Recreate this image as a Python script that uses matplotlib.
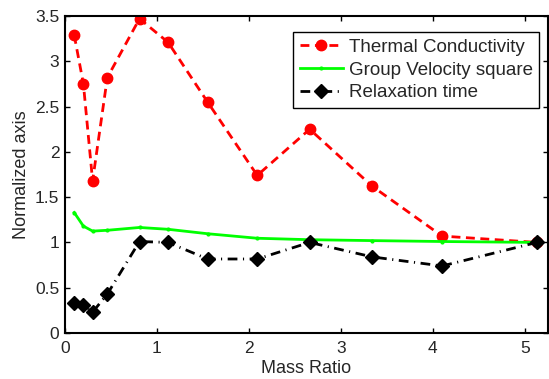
import numpy as np
from matplotlib import pyplot as plt

plt.rcParams['font.family'] = ['Liberation Sans', 'DejaVu Sans']

# Dati
mass_ratio = [0.1, 0.2, 0.3, 0.46, 0.81, 1.12, 1.55, 2.09, 2.66, 3.34, 4.1, 5.13]
thermal_cond = [3.29, 2.75, 1.68, 2.82, 3.47, 3.21, 2.55, 1.74, 2.25, 1.62, 1.07, 1.0]
group_vel_sq = [1.33, 1.18, 1.125, 1.134, 1.165, 1.145, 1.096, 1.046, 1.03, 1.02, 1.01, 1.0]
relax_time = [0.335, 0.305, 0.23, 0.43, 1.01, 1.0, 0.817, 0.817, 1.0, 0.84, 0.74, 1.0]

x_ticks = [0, 1, 2, 3, 4, 5]
y_ticks = [0, 0.5, 1, 1.5, 2, 2.5, 3, 3.5]
y_tick_labels = ["0", "0.5", "1", "1.5", "2", "2.5", "3", "3.5"]


def main() -> None:
    fig = plt.figure(figsize=(5.49, 3.79), dpi=100)
    ax = fig.add_axes([0.1184, 0.1214, 0.8796, 0.8364])

    ax.plot(mass_ratio, thermal_cond, color=(1, 0, 0), linestyle=(0, (3.2, 2.0)),
            linewidth=2, marker="o", markersize=7.5, label="Thermal Conductivity")
    ax.plot(mass_ratio, group_vel_sq, color=(0, 1, 0), linestyle="-",
            linewidth=2, marker=".", markersize=4, label="Group Velocity square")
    ax.plot(mass_ratio, relax_time, color="black", linestyle=(0, (3.5, 2, 0.4, 2)),
            linewidth=2, marker="D", markersize=7, label="Relaxation time")

    ax.set_xlim(0, 5.25)
    ax.set_ylim(0, 3.5)
    ax.set_xticks(x_ticks)
    ax.set_xticklabels([str(t) for t in x_ticks])
    ax.set_yticks(y_ticks)
    ax.set_yticklabels(y_tick_labels)

    ax.tick_params(direction="in", length=3.5, width=1, top=True, right=True,
                   labelsize=12.5, colors="black", labelcolor="#262626")
    ax.tick_params(axis="x", pad=6)
    ax.tick_params(axis="y", pad=4)
    for s in ax.spines.values():
        s.set_linewidth(1.5)

    ax.set_xlabel("Mass Ratio", fontsize=13, color="#262626", labelpad=3)
    ax.set_ylabel("Normalized axis", fontsize=13, color="#262626", labelpad=4)

    leg = ax.legend(loc="upper right", bbox_to_anchor=(0.982, 0.9486), borderaxespad=0,
                    fontsize=13.5, frameon=True, fancybox=False, framealpha=1,
                    edgecolor="black", handlelength=2.3, handletextpad=0.3,
                    labelspacing=0.3, borderpad=0.35)
    leg.get_frame().set_linewidth(1)
    for t in leg.get_texts():
        t.set_color("#262626")

    plt.savefig("out.png", dpi=100)

    return


if __name__ == "__main__":
    main()
